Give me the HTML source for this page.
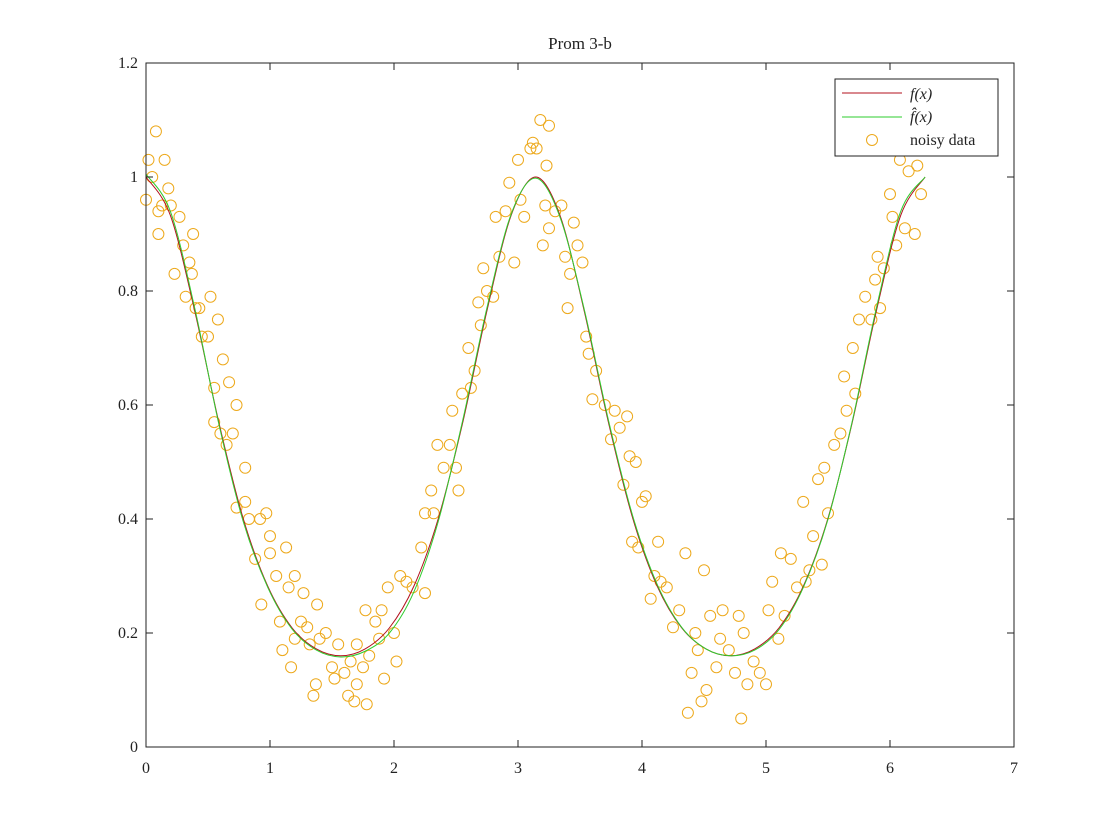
<!DOCTYPE html>
<html><head><meta charset="utf-8">
<style>
html,body{margin:0;padding:0;background:#fff;}
svg{display:block;font-family:"Liberation Serif",serif;}
</style></head>
<body>
<svg id="chart" width="1120" height="840" viewBox="0 0 1120 840" xmlns="http://www.w3.org/2000/svg">
<rect x="0" y="0" width="1120" height="840" fill="#fff"/>
<text x="580" y="49" text-anchor="middle" font-size="17" fill="#222">Prom 3-b</text>
<g id="plot"></g>
<rect x="146" y="63" width="868" height="684" fill="none" stroke="#222" stroke-width="1"/>
<g id="ticks"></g>
<g>
<rect x="835" y="79" width="163" height="77" fill="#fff" stroke="#222" stroke-width="1"/>
<line x1="842" y1="93" x2="902" y2="93" stroke="#b3121e" stroke-width="1"/>
<text x="910" y="99" font-size="16" font-style="italic" fill="#222">f(x)</text>
<line x1="842" y1="117" x2="902" y2="117" stroke="#2ecc2e" stroke-width="1"/>
<text x="910" y="122" font-size="16" font-style="italic" fill="#222">f̂(x)</text>
<circle cx="872" cy="140" r="5.5" fill="none" stroke="#eda91c" stroke-width="1"/>
<text x="910" y="145" font-size="16" fill="#222">noisy data</text>
</g>
</svg>
<script>
const xTicks=[0,1,2,3,4,5,6,7];
const yTicks=[0,0.2,0.4,0.6,0.8,1,1.2];
const yTickLabels=["0","0.2","0.4","0.6","0.8","1","1.2"];
const curveX=[0,0.196,0.393,0.589,0.785,0.982,1.178,1.374,1.571,1.767,1.963,2.160,2.356,2.553,2.749,2.945,3.142,3.338,3.534,3.731,3.927,4.123,4.320,4.516,4.712,4.909,5.105,5.301,5.498,5.694,5.890,6.087,6.283];
const fVals=[1,0.933,0.765,0.568,0.400,0.282,0.209,0.172,0.160,0.172,0.209,0.282,0.400,0.568,0.765,0.933,1,0.933,0.765,0.568,0.400,0.282,0.209,0.172,0.160,0.172,0.209,0.282,0.400,0.568,0.765,0.933,1];
const fhatVals=[1.005,0.94,0.77,0.565,0.395,0.28,0.207,0.17,0.158,0.168,0.2,0.272,0.395,0.572,0.77,0.935,0.998,0.93,0.768,0.572,0.404,0.285,0.21,0.172,0.16,0.17,0.206,0.28,0.398,0.57,0.77,0.94,1.0];
const dataX=[0,0.02,0.05,0.08,0.1,0.1,0.13,0.15,0.18,0.2,0.23,0.27,0.3,0.32,0.35,0.37,0.38,0.4,0.43,0.45,0.5,0.52,0.55,0.55,0.58,0.6,0.62,0.65,0.67,0.7,0.73,0.73,0.8,0.8,0.83,0.88,0.92,0.93,0.97,1.0,1.0,1.05,1.08,1.1,1.13,1.15,1.17,1.2,1.2,1.25,1.27,1.3,1.32,1.35,1.37,1.38,1.4,1.45,1.5,1.52,1.55,1.6,1.63,1.65,1.68,1.7,1.7,1.75,1.77,1.78,1.8,1.85,1.88,1.9,1.92,1.95,2.0,2.02,2.05,2.1,2.15,2.22,2.25,2.25,2.3,2.32,2.35,2.4,2.45,2.47,2.5,2.52,2.55,2.6,2.62,2.65,2.68,2.7,2.72,2.75,2.8,2.82,2.85,2.9,2.93,2.97,3.0,3.02,3.05,3.1,3.12,3.15,3.18,3.2,3.22,3.23,3.25,3.25,3.3,3.35,3.38,3.4,3.42,3.45,3.48,3.52,3.55,3.57,3.6,3.63,3.7,3.75,3.78,3.82,3.85,3.88,3.9,3.92,3.95,3.97,4.0,4.03,4.07,4.1,4.13,4.15,4.2,4.25,4.3,4.35,4.37,4.4,4.43,4.45,4.48,4.5,4.52,4.55,4.6,4.63,4.65,4.7,4.75,4.78,4.8,4.82,4.85,4.9,4.95,5.0,5.02,5.05,5.1,5.12,5.15,5.2,5.25,5.3,5.32,5.35,5.38,5.42,5.45,5.47,5.5,5.55,5.6,5.63,5.65,5.7,5.72,5.75,5.8,5.85,5.88,5.9,5.92,5.95,6.0,6.02,6.05,6.08,6.12,6.15,6.2,6.22,6.25];
const dataY=[0.96,1.03,1.0,1.08,0.9,0.94,0.95,1.03,0.98,0.95,0.83,0.93,0.88,0.79,0.85,0.83,0.9,0.77,0.77,0.72,0.72,0.79,0.63,0.57,0.75,0.55,0.68,0.53,0.64,0.55,0.6,0.42,0.49,0.43,0.4,0.33,0.4,0.25,0.41,0.34,0.37,0.3,0.22,0.17,0.35,0.28,0.14,0.3,0.19,0.22,0.27,0.21,0.18,0.09,0.11,0.25,0.19,0.2,0.14,0.12,0.18,0.13,0.09,0.15,0.08,0.18,0.11,0.14,0.24,0.075,0.16,0.22,0.19,0.24,0.12,0.28,0.2,0.15,0.3,0.29,0.28,0.35,0.27,0.41,0.45,0.41,0.53,0.49,0.53,0.59,0.49,0.45,0.62,0.7,0.63,0.66,0.78,0.74,0.84,0.8,0.79,0.93,0.86,0.94,0.99,0.85,1.03,0.96,0.93,1.05,1.06,1.05,1.1,0.88,0.95,1.02,0.91,1.09,0.94,0.95,0.86,0.77,0.83,0.92,0.88,0.85,0.72,0.69,0.61,0.66,0.6,0.54,0.59,0.56,0.46,0.58,0.51,0.36,0.5,0.35,0.43,0.44,0.26,0.3,0.36,0.29,0.28,0.21,0.24,0.34,0.06,0.13,0.2,0.17,0.08,0.31,0.1,0.23,0.14,0.19,0.24,0.17,0.13,0.23,0.05,0.2,0.11,0.15,0.13,0.11,0.24,0.29,0.19,0.34,0.23,0.33,0.28,0.43,0.29,0.31,0.37,0.47,0.32,0.49,0.41,0.53,0.55,0.65,0.59,0.7,0.62,0.75,0.79,0.75,0.82,0.86,0.77,0.84,0.97,0.93,0.88,1.03,0.91,1.01,0.9,1.02,0.97];

const NS="http://www.w3.org/2000/svg";
const X0=146,X1=1014,Y0=747,Y1=63;
const sx=v=>X0+(v-0)/(7-0)*(X1-X0);
const sy=v=>Y0-(v-0)/(1.2-0)*(Y0-Y1);
const plot=document.getElementById('plot');
const ticks=document.getElementById('ticks');
function mk(tag,attrs,parent){const e=document.createElementNS(NS,tag);for(const k in attrs)e.setAttribute(k,attrs[k]);parent.appendChild(e);return e;}

for(let i=0;i<dataX.length;i++){
  const c=mk('circle',{cx:sx(dataX[i]),cy:sy(dataY[i]),r:5.5,fill:'none',stroke:'#eda91c','stroke-width':1},plot);
  
  
}
function line(vals,color,name){
  const P=curveX.map((x,i)=>[sx(x),sy(vals[i])]);
  let d='M'+P[0][0].toFixed(2)+','+P[0][1].toFixed(2);
  for(let i=0;i<P.length-1;i++){
    const p0=P[Math.max(0,i-1)],p1=P[i],p2=P[i+1],p3=P[Math.min(P.length-1,i+2)];
    const c1=[p1[0]+(p2[0]-p0[0])/6,p1[1]+(p2[1]-p0[1])/6];
    const c2=[p2[0]-(p3[0]-p1[0])/6,p2[1]-(p3[1]-p1[1])/6];
    d+=' C'+c1[0].toFixed(2)+','+c1[1].toFixed(2)+' '+c2[0].toFixed(2)+','+c2[1].toFixed(2)+' '+p2[0].toFixed(2)+','+p2[1].toFixed(2);
  }
  const p=mk('path',{d:d,fill:'none',stroke:color,'stroke-width':1},plot);
  
  
}
line(fVals,'#b3121e','f-line');
line(fhatVals,'#2ecc2e','fhat-line');

xTicks.forEach(t=>{
  const x=sx(t);
  const a=mk('line',{x1:x,y1:Y0,x2:x,y2:Y0-7,stroke:'#222'},ticks);
  
  
  const b=mk('line',{x1:x,y1:Y1,x2:x,y2:Y1+7,stroke:'#222'},ticks);
  
  
  const l=mk('text',{x:x,y:Y0+26,'text-anchor':'middle','font-size':16,fill:'#222'},ticks);
  l.textContent=String(t);
  
  
});
yTicks.forEach((t,i)=>{
  const y=sy(t);
  const a=mk('line',{x1:X0,y1:y,x2:X0+7,y2:y,stroke:'#222'},ticks);
  
  
  const b=mk('line',{x1:X1,y1:y,x2:X1-7,y2:y,stroke:'#222'},ticks);
  
  
  const l=mk('text',{x:X0-8,y:y+5,'text-anchor':'end','font-size':16,fill:'#222'},ticks);
  l.textContent=yTickLabels[i];
  
  
});
</script>
</body></html>
